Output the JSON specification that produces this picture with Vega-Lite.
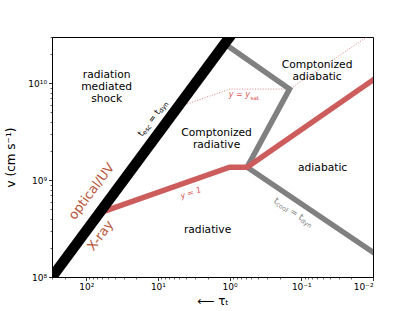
{
  "$schema": "https://vega.github.io/schema/vega-lite/v6.json",
  "width": 321,
  "height": 240,
  "autosize": "none",
  "padding": {"left": 52, "top": 37, "right": 42, "bottom": 34},
  "config": {
    "font": "DejaVu Sans",
    "view": {"stroke": "black", "strokeWidth": 1},
    "axis": {"domainColor": "black", "tickColor": "black", "labelColor": "black", "titleColor": "black", "grid": false, "labelFont": "DejaVu Sans", "titleFont": "DejaVu Sans", "titleFontWeight": "normal", "labelFontSize": 9, "tickWidth": 0.8, "domainWidth": 1}
  },
  "datasets": {
    "black": [{"tau": 400, "v": 7.5e7, "i": 0}, {"tau": 0.9, "v": 3.333e10, "i": 1}],
    "gray": [{"tau": 1.17, "v": 2.56e10, "i": 0}, {"tau": 0.146, "v": 8.7e9, "i": 1}, {"tau": 0.57, "v": 1.36e9, "i": 2}, {"tau": 0.008, "v": 1.61e8, "i": 3}],
    "red": [{"tau": 65, "v": 4.6e8, "i": 0}, {"tau": 1, "v": 1.36e9, "i": 1}, {"tau": 0.57, "v": 1.36e9, "i": 2}, {"tau": 0.008, "v": 1.21e10, "i": 3}],
    "dotted": [{"tau": 5.33, "v": 5.63e9, "i": 0}, {"tau": 1, "v": 8.7e9, "i": 1}, {"tau": 0.146, "v": 8.7e9, "i": 2}, {"tau": 0.008, "v": 3.7e10, "i": 3}],
    "regions": [
      {"tau": 51.9, "v": 1.21e10, "label": ["radiation", "mediated", "shock"]},
      {"tau": 1.52, "v": 3.08e9, "label": ["Comptonized", "radiative"]},
      {"tau": 0.0602, "v": 1.53e10, "label": ["Comptonized", "adiabatic"]},
      {"tau": 0.0504, "v": 1.32e9, "label": ["adiabatic"]},
      {"tau": 2.03, "v": 3.02e8, "label": ["radiative"]}
    ],
    "ysat": [{"tau": 0.52, "v": 7.5e9, "main": "y = y", "sub": "sat"}],
    "yone": [{"tau": 3.45, "v": 7.3e8, "label": "y = 1"}],
    "tesc": [{"tau": 11.9, "v": 4.35e9, "t1": "t", "s1": "esc", "t2": "= t", "s2": "dyn"}],
    "tcool": [{"tau": 0.128, "v": 4.69e8, "t1": "t", "s1": "cool", "t2": "= t", "s2": "dyn"}],
    "optical": [{"tau": 84.1, "v": 7.64e8, "label": "optical/UV"}],
    "xray": [{"tau": 63, "v": 2.68e8, "label": "X-ray"}]
  },
  "layer": [
    {
      "data": {"name": "dotted"},
      "mark": {"type": "line", "color": "#d9777a", "strokeWidth": 0.9, "strokeDash": [1, 1.6], "clip": true},
      "encoding": {
        "x": {"field": "tau", "type": "quantitative", "scale": {"type": "log", "domain": [0.01, 300], "reverse": true, "nice": false},
          "axis": {"orient": "bottom", "values": [100, 10, 1, 0.1, 0.01], "labelExpr": "datum.value == 100 ? '10²' : datum.value == 10 ? '10¹' : datum.value == 1 ? '10⁰' : datum.value == 0.1 ? '10⁻¹' : '10⁻²'", "tickSize": 3.5, "labelPadding": 2, "title": "⟵  τₜ", "titleFontSize": 12, "titlePadding": 4}},
        "y": {"field": "v", "type": "quantitative", "scale": {"type": "log", "domain": [1e8, 3e10], "nice": false},
          "axis": {"orient": "left", "values": [1e8, 1e9, 1e10], "labelExpr": "datum.value == 1e8 ? '10⁸' : datum.value == 1e9 ? '10⁹' : '10¹⁰'", "tickSize": 3.5, "labelPadding": 2, "title": "v  (cm s⁻¹)", "titleFontSize": 12, "titlePadding": 10}},
        "order": {"field": "i", "type": "quantitative"}
      }
    },
    {
      "data": {"name": "dotted"},
      "mark": {"type": "point", "opacity": 0},
      "encoding": {
        "x": {"field": "tau", "type": "quantitative", "axis": {"orient": "bottom", "values": [0.02,0.03,0.04,0.05,0.06,0.07,0.08,0.09,0.2,0.3,0.4,0.5,0.6,0.7,0.8,0.9,2,3,4,5,6,7,8,9,20,30,40,50,60,70,80,90,200,300], "labels": false, "tickSize": 2, "domain": false, "title": null, "tickWidth": 0.6}},
        "y": {"field": "v", "type": "quantitative", "axis": {"orient": "left", "values": [2e8,3e8,4e8,5e8,6e8,7e8,8e8,9e8,2e9,3e9,4e9,5e9,6e9,7e9,8e9,9e9,2e10,3e10], "labels": false, "tickSize": 2, "domain": false, "title": null, "tickWidth": 0.6}}
      }
    },
    {
      "data": {"name": "gray"},
      "mark": {"type": "line", "color": "#808080", "strokeWidth": 5.5, "clip": true},
      "encoding": {
        "x": {"field": "tau", "type": "quantitative", "axis": null},
        "y": {"field": "v", "type": "quantitative", "axis": null},
        "order": {"field": "i", "type": "quantitative"}
      }
    },
    {
      "data": {"name": "red"},
      "mark": {"type": "line", "color": "#cd5c5c", "strokeWidth": 5.5, "clip": true},
      "encoding": {
        "x": {"field": "tau", "type": "quantitative", "axis": null},
        "y": {"field": "v", "type": "quantitative", "axis": null},
        "order": {"field": "i", "type": "quantitative"}
      }
    },
    {
      "data": {"name": "black"},
      "mark": {"type": "line", "color": "black", "strokeWidth": 10.5, "clip": true},
      "encoding": {
        "x": {"field": "tau", "type": "quantitative", "axis": null},
        "y": {"field": "v", "type": "quantitative", "axis": null},
        "order": {"field": "i", "type": "quantitative"}
      }
    },
    {
      "data": {"name": "regions"},
      "mark": {"type": "text", "fontSize": 10.7, "lineHeight": 12, "align": "center", "baseline": "middle", "color": "black"},
      "encoding": {
        "x": {"field": "tau", "type": "quantitative", "axis": null},
        "y": {"field": "v", "type": "quantitative", "axis": null},
        "text": {"field": "label"}
      }
    },
    {
      "data": {"name": "ysat"},
      "mark": {"type": "text", "fontSize": 8, "fontStyle": "italic", "align": "right", "baseline": "middle", "color": "#d9534f"},
      "encoding": {
        "x": {"field": "tau", "type": "quantitative", "axis": null},
        "y": {"field": "v", "type": "quantitative", "axis": null},
        "text": {"field": "main"}
      }
    },
    {
      "data": {"name": "ysat"},
      "mark": {"type": "text", "fontSize": 5.6, "align": "left", "baseline": "middle", "dx": 0.5, "dy": 2.5, "color": "#d9534f"},
      "encoding": {
        "x": {"field": "tau", "type": "quantitative", "axis": null},
        "y": {"field": "v", "type": "quantitative", "axis": null},
        "text": {"field": "sub"}
      }
    },
    {
      "data": {"name": "yone"},
      "mark": {"type": "text", "fontSize": 8, "fontStyle": "italic", "align": "center", "baseline": "middle", "angle": -19, "color": "#d9534f"},
      "encoding": {
        "x": {"field": "tau", "type": "quantitative", "axis": null},
        "y": {"field": "v", "type": "quantitative", "axis": null},
        "text": {"field": "label"}
      }
    },
    {
      "data": {"name": "tesc"},
      "mark": {"type": "text", "fontSize": 9, "align": "left", "baseline": "middle", "angle": -53, "dx": -21.3, "color": "black"},
      "encoding": {"x": {"field": "tau", "type": "quantitative", "axis": null}, "y": {"field": "v", "type": "quantitative", "axis": null}, "text": {"field": "t1"}}
    },
    {
      "data": {"name": "tesc"},
      "mark": {"type": "text", "fontSize": 6.3, "align": "left", "baseline": "middle", "angle": -53, "dx": -17.8, "dy": 2.5, "color": "black"},
      "encoding": {"x": {"field": "tau", "type": "quantitative", "axis": null}, "y": {"field": "v", "type": "quantitative", "axis": null}, "text": {"field": "s1"}}
    },
    {
      "data": {"name": "tesc"},
      "mark": {"type": "text", "fontSize": 9, "align": "left", "baseline": "middle", "angle": -53, "dx": -4.3, "color": "black"},
      "encoding": {"x": {"field": "tau", "type": "quantitative", "axis": null}, "y": {"field": "v", "type": "quantitative", "axis": null}, "text": {"field": "t2"}}
    },
    {
      "data": {"name": "tesc"},
      "mark": {"type": "text", "fontSize": 6.3, "align": "left", "baseline": "middle", "angle": -53, "dx": 9.6, "dy": 2.5, "color": "black"},
      "encoding": {"x": {"field": "tau", "type": "quantitative", "axis": null}, "y": {"field": "v", "type": "quantitative", "axis": null}, "text": {"field": "s2"}}
    },
    {
      "data": {"name": "tcool"},
      "mark": {"type": "text", "fontSize": 9, "align": "left", "baseline": "middle", "angle": 34, "dx": -22.4, "color": "#808080"},
      "encoding": {"x": {"field": "tau", "type": "quantitative", "axis": null}, "y": {"field": "v", "type": "quantitative", "axis": null}, "text": {"field": "t1"}}
    },
    {
      "data": {"name": "tcool"},
      "mark": {"type": "text", "fontSize": 6.3, "align": "left", "baseline": "middle", "angle": 34, "dx": -18.9, "dy": 2.5, "color": "#808080"},
      "encoding": {"x": {"field": "tau", "type": "quantitative", "axis": null}, "y": {"field": "v", "type": "quantitative", "axis": null}, "text": {"field": "s1"}}
    },
    {
      "data": {"name": "tcool"},
      "mark": {"type": "text", "fontSize": 9, "align": "left", "baseline": "middle", "angle": 34, "dx": -3.1, "color": "#808080"},
      "encoding": {"x": {"field": "tau", "type": "quantitative", "axis": null}, "y": {"field": "v", "type": "quantitative", "axis": null}, "text": {"field": "t2"}}
    },
    {
      "data": {"name": "tcool"},
      "mark": {"type": "text", "fontSize": 6.3, "align": "left", "baseline": "middle", "angle": 34, "dx": 10.8, "dy": 2.5, "color": "#808080"},
      "encoding": {"x": {"field": "tau", "type": "quantitative", "axis": null}, "y": {"field": "v", "type": "quantitative", "axis": null}, "text": {"field": "s2"}}
    },
    {
      "data": {"name": "optical"},
      "mark": {"type": "text", "fontSize": 13, "align": "center", "baseline": "middle", "angle": -53, "color": "#b9573b"},
      "encoding": {"x": {"field": "tau", "type": "quantitative", "axis": null}, "y": {"field": "v", "type": "quantitative", "axis": null}, "text": {"field": "label"}}
    },
    {
      "data": {"name": "xray"},
      "mark": {"type": "text", "fontSize": 13, "align": "center", "baseline": "middle", "angle": -53, "color": "#b9573b"},
      "encoding": {"x": {"field": "tau", "type": "quantitative", "axis": null}, "y": {"field": "v", "type": "quantitative", "axis": null}, "text": {"field": "label"}}
    }
  ],
  "resolve": {"axis": {"x": "independent", "y": "independent"}}
}
